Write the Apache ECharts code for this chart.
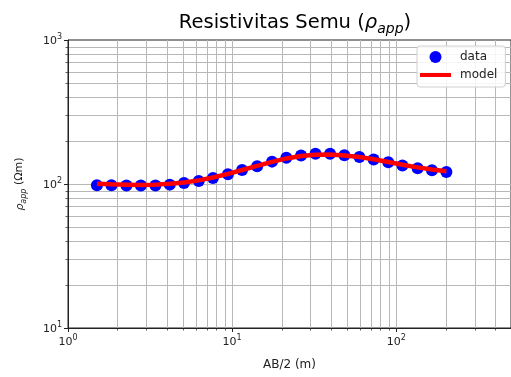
<!DOCTYPE html>
<html>
<head>
<meta charset="utf-8">
<script src="https://cdn.jsdelivr.net/npm/echarts@6/dist/echarts.min.js"></script>
<style>
html,body{margin:0;padding:0;background:#fff;}
#c{width:511px;height:377px;}
</style>
</head>
<body>
<div id="c"></div>
<script>
// AB/2 (m)
var abHalf = [1.5, 1.84, 2.27, 2.78, 3.41, 4.17, 5.09, 6.26, 7.64, 9.43, 11.5, 14.2, 17.5, 21.4, 26.3, 32.2, 39.5, 48.3, 59.6, 72.8, 89.4, 109, 135, 165, 202];
// apparent resistivity data (Ohm m)
var rhoData = [98, 98, 97.5, 97.5, 97.5, 99, 101.5, 105, 110, 117, 125, 133, 143, 152, 158, 162, 162, 158.5, 154, 148, 141.5, 134.5, 128.5, 124.5, 121];
// model response
var rhoModel = [100.5, 99.5, 99, 98.5, 99, 100.5, 102.5, 106, 111, 117.5, 125, 133.5, 142.5, 150.5, 156.5, 159.5, 160, 158, 154, 148.5, 142, 136, 130.5, 126, 122.5];
// grid lines (major + minor)
var xGridMajor = [10, 100];
var xGridMinor = [2, 3, 4, 5, 6, 7, 8, 9, 20, 30, 40, 50, 60, 70, 80, 90, 200, 300, 400];
var yGridMajor = [100];
var yGridMinor = [20, 30, 40, 50, 60, 70, 80, 90, 200, 300, 400, 500, 600, 700, 800, 900];
var xMin = 1, xMax = 500, yMin = 10, yMax = 1000;

var FONT = 'DejaVu Sans';
var GRID = '#b8b8b8';

function powLabel(v) {
  var e = Math.round(Math.log10(v));
  return '{b|10}{s|' + e + '}';
}
var tickRich = {
  b: {fontFamily: FONT, fontSize: 11, color: '#222', lineHeight: 14, verticalAlign: 'bottom'},
  s: {fontFamily: FONT, fontSize: 8, color: '#222', lineHeight: 8, verticalAlign: 'top'}
};

var vData = [], hData = [];
xGridMajor.forEach(function (v) { vData.push([v, yMin, 1]); });
xGridMinor.forEach(function (v) { vData.push([v, yMin, 0]); });
yGridMajor.forEach(function (v) { hData.push([xMin, v, 1]); });
yGridMinor.forEach(function (v) { hData.push([xMin, v, 0]); });

function renderV(params, api) {
  var x = api.value(0);
  var p0 = api.coord([x, yMin]);
  var p1 = api.coord([x, yMax]);
  var major = api.value(2) === 1;
  var px = Math.round(p0[0]) + 0.5;
  var children = [{
    type: 'line', shape: {x1: px, y1: p0[1], x2: px, y2: p1[1]},
    style: {stroke: GRID, lineWidth: 1}
  }];
  if (!major) {
    children.push({type: 'line', shape: {x1: px, y1: p0[1], x2: px, y2: p0[1] + 2.5}, style: {stroke: '#333', lineWidth: 0.8}});
  }
  return {type: 'group', children: children};
}
function renderH(params, api) {
  var y = api.value(1);
  var p0 = api.coord([xMin, y]);
  var p1 = api.coord([xMax, y]);
  var major = api.value(2) === 1;
  var py = Math.round(p0[1]) + 0.5;
  var children = [{
    type: 'line', shape: {x1: p0[0], y1: py, x2: p1[0], y2: py},
    style: {stroke: GRID, lineWidth: 1}
  }];
  if (!major) {
    children.push({type: 'line', shape: {x1: p0[0] - 2.5, y1: py, x2: p0[0], y2: py}, style: {stroke: '#333', lineWidth: 0.8}});
  }
  return {type: 'group', children: children};
}

var chart = echarts.init(document.getElementById('c'), null, {renderer: 'canvas'});
chart.setOption({
  animation: false,
  backgroundColor: '#fff',
  title: {
    text: '{t|Resistivitas Semu (}{i|ρ}{sub|app}{t|)}',
    left: 290, top: 5, textAlign: 'center',
    textStyle: {
      fontWeight: 'normal',
      rich: {
        t: {fontFamily: FONT, fontSize: 19.5, fontWeight: 'normal', color: '#000', lineHeight: 23, verticalAlign: 'bottom'},
        i: {fontFamily: FONT, fontSize: 19.5, fontWeight: 'normal', fontStyle: 'italic', color: '#000', lineHeight: 23, verticalAlign: 'bottom'},
        sub: {fontFamily: FONT, fontSize: 14, fontWeight: 'normal', fontStyle: 'italic', color: '#000', lineHeight: 14, verticalAlign: 'bottom', padding: [0, 0, -3, 0]}
      }
    }
  },
  legend: {
    orient: 'vertical',
    left: 417, top: 46,
    padding: [5, 8, 6, 3],
    itemGap: 6,
    itemWidth: 31, itemHeight: 12,
    backgroundColor: 'rgba(255,255,255,0.85)',
    borderColor: '#d0d0d0', borderWidth: 1, borderRadius: 3,
    textStyle: {fontFamily: FONT, fontSize: 12, color: '#222', padding: [0, 0, 0, 4]},
    data: [
      {name: 'data', icon: 'circle'},
      {name: 'model', icon: 'path://M0,0M0,4L31,4L31,8L0,8ZM31,12'}
    ]
  },
  grid: {left: 68, top: 40, right: -1, bottom: 49, show: true, borderColor: '#222', borderWidth: 1, backgroundColor: 'transparent'},
  xAxis: {
    type: 'log', logBase: 10, min: xMin, max: xMax,
    name: 'AB/2 (m)', nameLocation: 'middle', nameGap: 31,
    nameTextStyle: {fontFamily: FONT, fontSize: 12, color: '#222'},
    axisLine: {lineStyle: {color: '#222', width: 1}},
    axisTick: {length: 4, lineStyle: {color: '#222'}},
    splitLine: {show: false},
    minorTick: {show: false},
    axisLabel: {formatter: powLabel, rich: tickRich, margin: 6, showMaxLabel: false}
  },
  yAxis: {
    type: 'log', logBase: 10, min: yMin, max: yMax,
    name: '{i|ρ}{sub|app} (Ωm)', nameLocation: 'middle', nameGap: 42, nameRotate: 90,
    nameTextStyle: {
      fontFamily: FONT, fontSize: 11, color: '#222',
      rich: {
        i: {fontFamily: FONT, fontSize: 11, fontStyle: 'italic', color: '#222', lineHeight: 14, verticalAlign: 'bottom'},
        sub: {fontFamily: FONT, fontSize: 8, fontStyle: 'italic', color: '#222', lineHeight: 8, verticalAlign: 'bottom', padding: [0, 0, -2, 0]}
      }
    },
    axisLine: {lineStyle: {color: '#222', width: 1}},
    axisTick: {length: 4, lineStyle: {color: '#222'}},
    splitLine: {show: false},
    axisLabel: {formatter: powLabel, rich: tickRich, margin: 6}
  },
  series: [
    {type: 'custom', name: 'vgrid', renderItem: renderV, data: vData, clip: false, z: 0, silent: true, encode: {x: 0, y: 1}},
    {type: 'custom', name: 'hgrid', renderItem: renderH, data: hData, clip: false, z: 0, silent: true, encode: {x: 0, y: 1}},
    {
      type: 'scatter', name: 'data', z: 3,
      symbol: 'circle', symbolSize: 12,
      itemStyle: {color: '#0000ff', opacity: 1},
      data: abHalf.map(function (x, i) { return [x, rhoData[i]]; })
    },
    {
      type: 'line', name: 'model', z: 4,
      showSymbol: false, symbol: 'none',
      lineStyle: {color: '#ff0000', width: 4.5},
      itemStyle: {color: '#ff0000'},
      data: abHalf.map(function (x, i) { return [x, rhoModel[i]]; })
    }
  ]
});
</script>
</body>
</html>
